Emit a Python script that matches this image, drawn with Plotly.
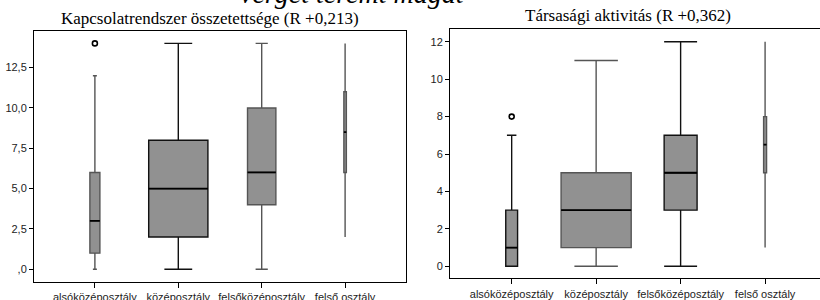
import plotly.graph_objects as go

categories = ["alsóközéposztály", "középosztály", "felsőközéposztály", "felső osztály"]

# Left panel: Kapcsolatrendszer összetettsége
left_low = [0, 0, 0, 2]
left_q1 = [1, 2, 4, 6]
left_med = [3, 5, 6, 8.5]
left_q3 = [6, 8, 10, 11]
left_high = [12, 14, 14, 14]
left_out_cat = ["alsóközéposztály"]
left_out_val = [14]
left_widths = [0.12, 0.71, 0.34, 0.03]
left_whisk = [0.4, 0.47, 0.43, 0.0]
left_lines = ["#555555", "#111111", "#555555", "#555555"]

# Right panel: Társasági aktivitás
right_low = [0, 0, 0, 1]
right_q1 = [0, 1, 3, 5]
right_med = [1, 3, 5, 6.5]
right_q3 = [3, 5, 7, 8]
right_high = [7, 11, 12, 12]
right_out_cat = ["alsóközéposztály"]
right_out_val = [8]
right_widths = [0.14, 0.83, 0.39, 0.035]
right_whisk = [0.8, 0.62, 1.0, 0.0]
right_lines = ["#111111", "#555555", "#111111", "#555555"]

left_ticks = [0, 2.5, 5, 7.5, 10, 12.5]
left_ticktext = [",0", "2,5", "5,0", "7,5", "10,0", "12,5"]
right_ticks = [0, 2, 4, 6, 8, 10, 12]

fig = go.Figure()

def add_boxes(xa, ya, low, q1, med, q3, high, widths, whisk, lines):
    for i, c in enumerate(categories):
        fig.add_trace(go.Box(
            x=[c], lowerfence=[low[i]], q1=[q1[i]], median=[med[i]], q3=[q3[i]],
            upperfence=[high[i]], width=widths[i], whiskerwidth=whisk[i],
            fillcolor="#919191", line=dict(color=lines[i], width=1.4),
            xaxis=xa, yaxis=ya, showlegend=False, hoverinfo="skip",
        ))
    # black median lines on top
    for i, c in enumerate(categories):
        fig.add_trace(go.Box(
            x=[c], lowerfence=[med[i]], q1=[med[i]], median=[med[i]], q3=[med[i]],
            upperfence=[med[i]], width=widths[i], whiskerwidth=0,
            fillcolor="rgba(0,0,0,0)", line=dict(color="black", width=1.8),
            xaxis=xa, yaxis=ya, showlegend=False, hoverinfo="skip",
        ))

add_boxes("x", "y", left_low, left_q1, left_med, left_q3, left_high, left_widths, left_whisk, left_lines)
add_boxes("x2", "y2", right_low, right_q1, right_med, right_q3, right_high, right_widths, right_whisk, right_lines)

fig.add_trace(go.Scatter(x=left_out_cat, y=left_out_val, mode="markers",
                         marker=dict(symbol="circle-open", size=5, color="black", line=dict(width=1.6)),
                         xaxis="x", yaxis="y", showlegend=False))
fig.add_trace(go.Scatter(x=right_out_cat, y=right_out_val, mode="markers",
                         marker=dict(symbol="circle-open", size=5, color="black", line=dict(width=1.6)),
                         xaxis="x2", yaxis="y2", showlegend=False))

tickfont = dict(family="Liberation Sans, Arial, sans-serif", size=11, color="#222222")

common = dict(showline=True, linecolor="black", linewidth=1, tickcolor="black",
              showgrid=False, zeroline=False, tickfont=tickfont, automargin=False, ticks="outside")

fig.update_layout(
    width=820, height=300,
    margin=dict(l=0, r=0, t=0, b=0, autoexpand=False),
    paper_bgcolor="white", plot_bgcolor="white",
    boxmode="overlay",
    xaxis=dict(domain=[34/820, 406/820], type="category", categoryorder="array", categoryarray=categories,
               range=[-0.73, 3.73], mirror=True, ticklen=5, anchor="y", **common),
    yaxis=dict(domain=[18/300, 269/300], range=[-0.79, 14.77], tickvals=left_ticks, ticktext=left_ticktext,
               mirror=True, ticklen=4, anchor="x", **common),
    xaxis2=dict(domain=[450/820, 1.0], type="category", categoryorder="array", categoryarray=categories,
                range=[-0.73, 3.65], mirror=True, ticklen=5, anchor="y2", **common),
    yaxis2=dict(domain=[21.7/300, 271/300], range=[-0.64, 12.68], tickvals=right_ticks,
                mirror=False, ticklen=4, anchor="x2", **common),
    annotations=[
        dict(text="Kapcsolatrendszer összetettsége (R +0,213)", xref="paper", yref="paper",
             x=210/820, y=1 - 18/300, xanchor="center", yanchor="middle", showarrow=False,
             font=dict(family="Liberation Serif, Times New Roman, serif", size=17, color="black")),
        dict(text="Társasági aktivitás (R +0,362)", xref="paper", yref="paper",
             x=628/820, y=1 - 15/300, xanchor="center", yanchor="middle", showarrow=False,
             font=dict(family="Liberation Serif, Times New Roman, serif", size=17, color="black")),
        dict(text="<i>vérget teremt magát</i>", xref="paper", yref="paper",
             x=352/820, y=1 - 11/300, xanchor="center", yanchor="bottom", showarrow=False,
             font=dict(family="Liberation Serif, Times New Roman, serif", size=28, color="black")),
    ],
)

fig.write_html("out.html", config={"displayModeBar": False},
               post_script="document.body.style.margin='0';document.body.style.overflow='hidden';")
